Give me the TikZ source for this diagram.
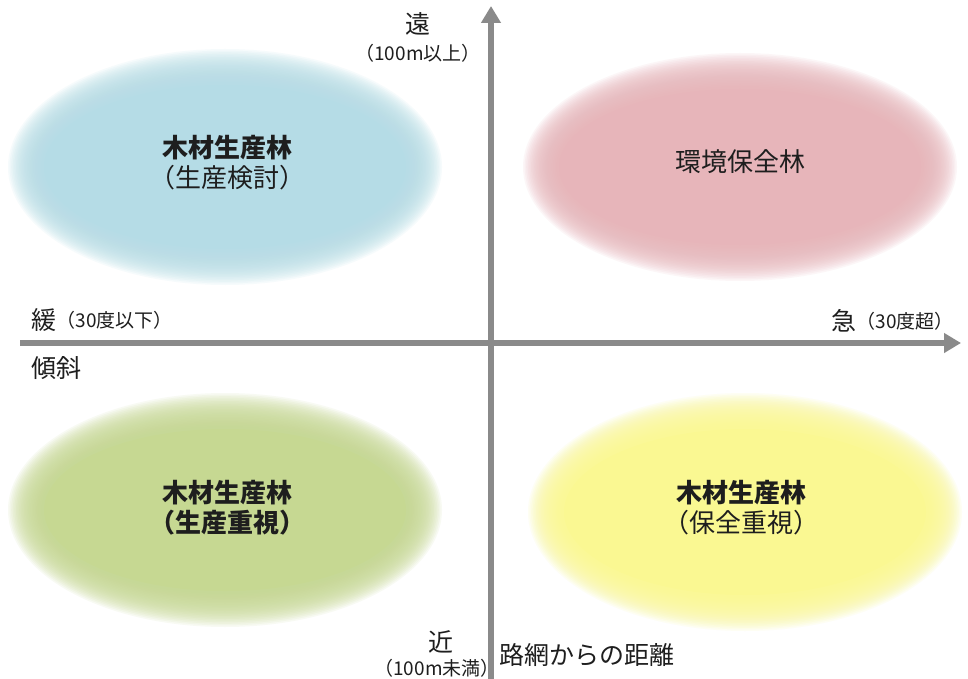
\documentclass[tikz,border=0pt]{standalone}
\usepackage{fontspec}
\setmainfont{Noto Sans CJK JP}
\usetikzlibrary{arrows.meta}
\definecolor{axisgray}{HTML}{8A8A8A}
\definecolor{cblue}{HTML}{B5DCE6}
\definecolor{cpink}{HTML}{E7B5BA}
\definecolor{cgreen}{HTML}{C6D892}
\definecolor{cyellow}{HTML}{FAF892}
\definecolor{txt}{HTML}{1E1E1E}
\newcommand\fuzzyellipse[5]{%
  \foreach \k in {0,...,21}{%
    \fill[#5, opacity=0.11] (#1,#2) ellipse [x radius={#3-\k*1.6}, y radius={#4-\k*1.6}];
  }%
  \fill[#5] (#1,#2) ellipse [x radius={#3-36}, y radius={#4-36}];
}
\begin{document}
\begin{tikzpicture}[x=1pt,y=-1pt,
  axis/.style={draw=axisgray, line width=6pt, -{Triangle[length=17pt,width=19pt]}},
  big/.style={font=\fontsize{26}{30}\selectfont, text=txt, inner sep=0pt, align=center},
  bigb/.style={big, font=\fontsize{26}{30}\selectfont\bfseries},
  mid/.style={font=\fontsize{25}{28}\selectfont, text=txt, inner sep=0pt},
  small/.style={font=\fontsize{19}{22}\selectfont, text=txt, inner sep=0pt}]
\useasboundingbox (0,0) rectangle (968,679);
\fill[white] (0,0) rectangle (968,679);
% fuzzy ellipses
\fuzzyellipse{225}{167}{217}{118}{cblue}
\fuzzyellipse{740}{167}{217}{114}{cpink}
\fuzzyellipse{225}{510}{217}{117}{cgreen}
\fuzzyellipse{745}{512}{217}{119}{cyellow}
% axes
\coordinate (xs) at (20,343);
\coordinate (xe) at (961,343);
\coordinate (ys) at (491,679);
\coordinate (ye) at (491,6);
\draw[axis] (xs) -- (xe);
\draw[axis] (ys) -- (ye);
% axis labels
\node[mid] (far) at (418,24) {遠};
\node[small] (farsub) at (418,53) {（100m以上）};
\node[mid, anchor=west] (gentle) at (31,320) {緩};
\node[small, anchor=west] (gentlesub) at (gentle.east) {（30度以下）};
\node[mid, anchor=west] (slope) at (31,368) {傾斜};
\node[small, anchor=east] (steepsub) at (954,321) {（30度超）};
\node[mid, anchor=east] (steep) at (steepsub.west) {急};
\node[mid] (near) at (441,642) {近};
\node[small] (nearsub) at (437,668) {（100m未満）};
\node[mid, anchor=west] (dist) at (499,655) {路網からの距離};
% quadrant labels
\node[bigb] (q1a) at (227,148) {木材生産林};
\node[big] (q1b) at (227,178) {（生産検討）};
\node[big] (q2) at (740,162) {環境保全林};
\node[bigb] (q3a) at (227,493) {木材生産林};
\node[bigb] (q3b) at (227,523) {（生産重視）};
\node[bigb] (q4a) at (741,493) {木材生産林};
\node[big] (q4b) at (741,523) {（保全重視）};
\end{tikzpicture}
\end{document}
